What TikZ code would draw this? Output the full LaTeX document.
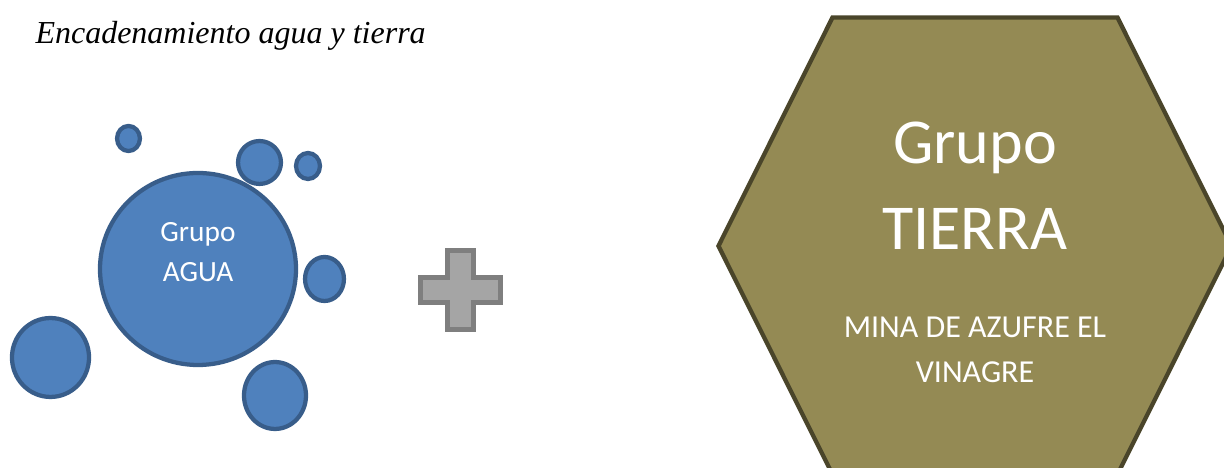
\documentclass[tikz,border=0pt]{standalone}
\usepackage{fontspec}
\setmainfont{Liberation Serif}
\newfontfamily\calibri{Carlito}
\usetikzlibrary{shapes.geometric}
\definecolor{waterFill}{RGB}{79,129,189}
\definecolor{waterLine}{RGB}{56,93,138}
\definecolor{plusFill}{RGB}{165,165,165}
\definecolor{plusLine}{RGB}{127,127,127}
\definecolor{earthFill}{RGB}{148,138,84}
\definecolor{earthLine}{RGB}{74,69,42}
\tikzset{
  drop/.style={ellipse, draw=waterLine, fill=waterFill, line width=1.6pt, inner sep=0pt},
  whiteText/.style={text=white, inner sep=0pt, anchor=base, font=\calibri},
  earthShape/.style={draw=earthLine, fill=earthFill, line width=1.6pt},
  plusShape/.style={draw=plusLine, fill=plusFill, line width=2pt}
}

\begin{document}
\begin{tikzpicture}[x=0.375pt, y=-0.375pt]
  \useasboundingbox (0,0) rectangle (1224,468);
  \node[anchor=base west, inner sep=0pt, font=\itshape\fontsize{12}{14}\selectfont] (title) at (35,44) {Encadenamiento agua y tierra};
  % grupo agua
  \node[drop, minimum width=73.5pt, minimum height=72pt] (agua) at (198,269) {};
  \node[drop, minimum width=8.6pt, minimum height=9.4pt] (dropA) at (128.5,138.5) {};
  \node[drop, minimum width=16.1pt, minimum height=16.1pt] (dropB) at (259.5,162.5) {};
  \node[drop, minimum width=9pt, minimum height=9.75pt] (dropC) at (308,166) {};
  \node[drop, minimum width=14.6pt, minimum height=16.5pt] (dropD) at (324.5,279) {};
  \node[drop, minimum width=28.9pt, minimum height=29.6pt] (dropE) at (50.5,357.5) {};
  \node[drop, minimum width=23.25pt, minimum height=25.1pt] (dropF) at (275,395.5) {};
  \node[whiteText, font=\calibri\fontsize{11}{13}\selectfont] (aguaTop) at (198,241.7) {Grupo};
  \node[whiteText, font=\calibri\fontsize{11}{13}\selectfont] (aguaBot) at (198,281.7) {AGUA};
  % signo mas
  \draw[plusShape] (447.5,250.5) -- (473.5,250.5) -- (473.5,277.5) -- (500.5,277.5)
    -- (500.5,302.5) -- (473.5,302.5) -- (473.5,329.5) -- (447.5,329.5)
    -- (447.5,302.5) -- (420.5,302.5) -- (420.5,277.5) -- (447.5,277.5) -- cycle;
  % grupo tierra
  \draw[earthShape] (832.5,17.5) -- (1117.5,17.5) -- (1231.5,246) -- (1117.5,474.5)
    -- (832.5,474.5) -- (718.5,246) -- cycle;
  \node[whiteText, font=\calibri\fontsize{24}{29}\selectfont] (tierraTop) at (975,164) {Grupo};
  \node[whiteText, font=\calibri\fontsize{24}{29}\selectfont] (tierraBot) at (975,250) {TIERRA};
  \node[whiteText, font=\calibri\fontsize{12}{14}\selectfont] (minaTop) at (975,337.7) {MINA DE AZUFRE EL};
  \node[whiteText, font=\calibri\fontsize{12}{14}\selectfont] (minaBot) at (975,382.7) {VINAGRE};
\end{tikzpicture}
\end{document}
